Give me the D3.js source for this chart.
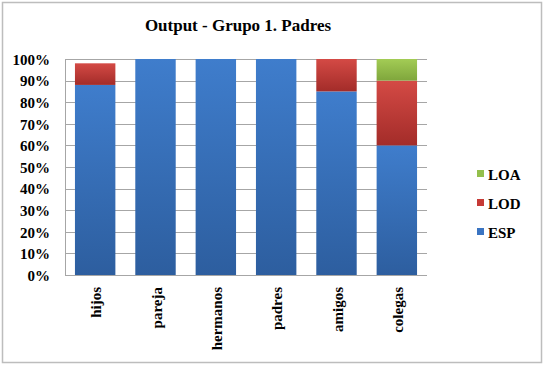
<!DOCTYPE html>
<html><head><meta charset="utf-8">
<script src="https://cdn.jsdelivr.net/npm/d3@7"></script>
<style>body{margin:0;background:#fff}svg{display:block}text{font-family:"Liberation Serif","Times New Roman",serif !important;font-weight:bold;fill:#000}</style>
</head><body><svg id="c" width="549" height="365"></svg>
<script>
const categories = ["hijos","pareja","hermanos","padres","amigos","colegas"];
const ESP = [0.88, 1.00, 1.00, 1.00, 0.85, 0.60];
const LOD = [0.10, 0.00, 0.00, 0.00, 0.15, 0.30];
const LOA = [0.00, 0.00, 0.00, 0.00, 0.00, 0.10];
const seriesNames = ["ESP","LOD","LOA"];
const yTicks = [0,0.1,0.2,0.3,0.4,0.5,0.6,0.7,0.8,0.9,1.0];

const svg = d3.select("#c");
const defs = svg.append("defs");
const grads = {ESP:["#3f7dcc","#2d5e9f"], LOD:["#d44a45","#a32c29"], LOA:["#a3cc55","#7fa63c"]};
Object.entries(grads).forEach(([k,[a,b]])=>{
  const g = defs.append("linearGradient").attr("id","g"+k).attr("x1",0).attr("y1",0).attr("x2",0).attr("y2",1);
  g.append("stop").attr("offset","0%").attr("stop-color",a);
  g.append("stop").attr("offset","100%").attr("stop-color",b);
});
const legendColors = {ESP:"#3a74c2", LOD:"#c63a36", LOA:"#93bf4c"};

svg.append("rect").attr("x",2.5).attr("y",2.5).attr("width",539).attr("height",360)
  .attr("fill","#fff").attr("stroke","#bdbdbd").attr("stroke-width",1.5);

const L=65, R=427, T=59, B=275;
const x = d3.scaleBand().domain(categories).range([L,R]).paddingInner(0.33).paddingOuter(0.165);
const y = d3.scaleLinear().domain([0,1]).range([B,T]);

svg.append("text").attr("x",238).attr("y",31).attr("text-anchor","middle").attr("font-size",17).text("Output - Grupo 1. Padres");

// grid
svg.append("g").selectAll("line").data(yTicks).join("line")
  .attr("x1",L).attr("x2",R).attr("y1",d=>Math.round(y(d))+0.5).attr("y2",d=>Math.round(y(d))+0.5)
  .attr("stroke","#a6a6a6").attr("stroke-width",1);
svg.append("line").attr("x1",L+0.5).attr("x2",L+0.5).attr("y1",T).attr("y2",B).attr("stroke","#a6a6a6");

const yAxis = d3.axisLeft(y).tickValues(yTicks).tickFormat(d3.format(".0%")).tickSize(0).tickPadding(15);
const ya = svg.append("g").attr("transform",`translate(${L},0)`).call(yAxis)
  .attr("font-family","Liberation Serif").attr("font-size",15);
ya.select(".domain").remove();
ya.selectAll("text").attr("dy","0.35em");

const stack = d3.stack().keys(seriesNames);
const rows = categories.map((c,i)=>({cat:c, ESP:ESP[i], LOD:LOD[i], LOA:LOA[i]}));
const layers = stack(rows);
svg.append("g").selectAll("g").data(layers).join("g")
  .attr("fill",d=>`url(#g${d.key})`)
  .selectAll("rect").data(d=>d.filter(v=>v[1]-v[0]>0)).join("rect")
  .attr("x",d=>x(d.data.cat)).attr("width",x.bandwidth())
  .attr("y",d=>y(d[1])).attr("height",d=>y(d[0])-y(d[1]));

const xAxis = d3.axisBottom(x).tickSize(0).tickPadding(0);
const xa = svg.append("g").attr("transform",`translate(0,${B})`).call(xAxis)
  .attr("font-family","Liberation Serif").attr("font-size",15);
xa.select(".domain").remove();
xa.selectAll("text").attr("transform","rotate(-90)").attr("text-anchor","end")
  .attr("x",-12).attr("y",1).attr("dy","0.35em");

const legendOrder = ["LOA","LOD","ESP"];
const lg = svg.append("g").selectAll("g").data(legendOrder).join("g")
  .attr("transform",(d,i)=>`translate(477,${175+i*29})`);
lg.append("rect").attr("x",0).attr("y",-5).attr("width",7).attr("height",7).attr("fill",d=>legendColors[d]);
lg.append("text").attr("x",11).attr("y",0).attr("dy","0.35em").attr("font-size",15).text(d=>d);
</script></body></html>
